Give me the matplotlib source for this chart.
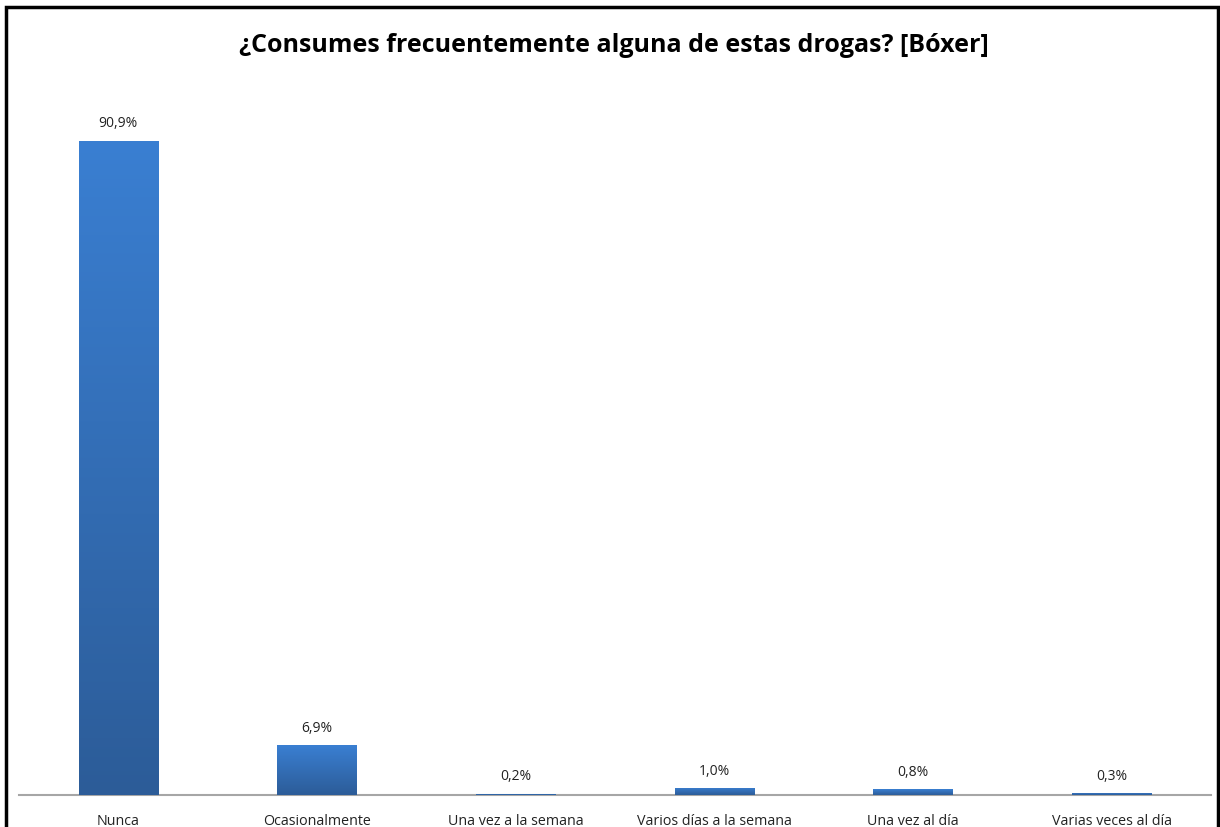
import numpy as np
import matplotlib
matplotlib.use("Agg")
import matplotlib.pyplot as plt
from matplotlib.colors import LinearSegmentedColormap
from matplotlib.patches import Rectangle

categorias = ["Nunca", "Ocasionalmente", "Una vez a la semana",
              "Varios días a la semana", "Una vez al día", "Varias veces al día"]
porcentajes = [90.9, 6.9, 0.2, 1.0, 0.8, 0.3]
etiquetas = ["90,9%", "6,9%", "0,2%", "1,0%", "0,8%", "0,3%"]

plt.rcParams["font.family"] = ["Open Sans", "DejaVu Sans"]

W, H = 1220, 828
fig = plt.figure(figsize=(W / 100, H / 100), dpi=100)
ax = fig.add_axes([19 / W, (H - 796) / H, (1211 - 19) / W, (796 - 76) / H])

x = np.arange(len(categorias))
barras = ax.bar(x, porcentajes, width=0.4, color="#3470bd", zorder=2)

# degradado vertical dentro de cada barra
cmap = LinearSegmentedColormap.from_list("azul", ["#2c5c98", "#3a7fd2"])
grad = np.linspace(0, 1, 256).reshape(-1, 1)
for b in barras:
    x0, y0 = b.get_x(), b.get_y()
    w, h = b.get_width(), b.get_height()
    im = ax.imshow(grad, cmap=cmap, aspect="auto", origin="lower",
                   extent=[x0, x0 + w, y0, y0 + h], zorder=3)
    im.set_clip_path(b)

for xi, v, t in zip(x, porcentajes, etiquetas):
    ax.text(xi, v + 1.4, t, ha="center", va="bottom", fontsize=10, color="#222222")

ax.set_xlim(-0.5, len(categorias) - 0.5)
ax.set_ylim(0, 100)
ax.set_xticks(x)
ax.set_xticklabels(categorias, fontsize=10.3, color="#222222")
ax.tick_params(axis="x", length=0, pad=13)
ax.set_yticks([])
for s in ["top", "right", "left"]:
    ax.spines[s].set_visible(False)
ax.spines["bottom"].set_color("#a6a6a6")
ax.spines["bottom"].set_linewidth(1.5)

fig.text(614 / W, 1 - 45 / H, "¿Consumes frecuentemente alguna de estas drogas? [Bóxer]",
         ha="center", va="center", fontsize=18, fontweight="bold", color="#000000")

# marco exterior
fig.patches.append(Rectangle((6 / W, -0.05), (1218 - 6) / W, 1.05 - 8 / H,
                             transform=fig.transFigure, fill=False,
                             edgecolor="black", linewidth=2.5))

plt.savefig("out.png", dpi=100)
